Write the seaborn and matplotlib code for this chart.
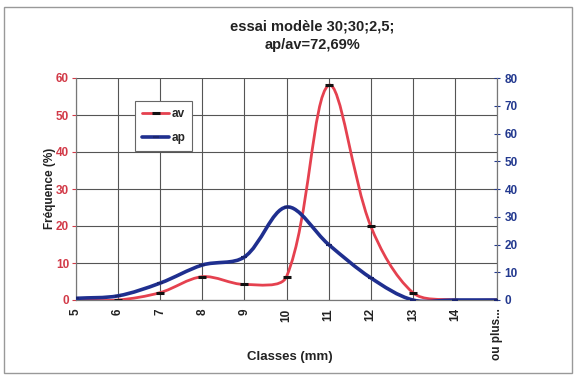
import numpy as np
import matplotlib
matplotlib.use("Agg")
import matplotlib.pyplot as plt
import seaborn as sns
from matplotlib.path import Path
from matplotlib.patches import PathPatch, Rectangle
from matplotlib.lines import Line2D

# size classes (mm) and frequencies
classes = ["5", "6", "7", "8", "9", "10", "11", "12", "13", "14", "ou plus..."]
av = [0, 0, 2, 6.3, 4.2, 6.3, 58, 20, 2, 0, 0]              # left axis (%)
ap = [0.6, 1.5, 6.1, 12.6, 15.5, 33.5, 20, 8, 0, 0, 0]      # right axis

RED = "#e5414f"
BLUE = "#1f2f8f"
RED_TXT = "#d23a48"
BLUE_TXT = "#23398f"


def smooth_path(xs, ys, sx, sy):
    # Excel style smoothed line: cubic Bezier segments, tangents weighted by chord length in pixels
    pts = np.column_stack([xs, ys]).astype(float)
    sc = np.array([sx, sy])
    n = len(pts)
    verts = [pts[0]]
    codes = [Path.MOVETO]

    def ctrl(i, forward):
        p0 = pts[max(i - 1, 0)]
        p1 = pts[i]
        p2 = pts[min(i + 1, n - 1)]
        d1 = np.linalg.norm((p1 - p0) * sc)
        d2 = np.linalg.norm((p2 - p1) * sc)
        if d1 + d2 == 0:
            return p1
        if forward:
            return p1 + (p2 - p0) * d2 / (d1 + d2) / 3
        return p1 - (p2 - p0) * d1 / (d1 + d2) / 3

    for i in range(n - 1):
        verts += [ctrl(i, True), ctrl(i + 1, False), pts[i + 1]]
        codes += [Path.CURVE4] * 3
    return Path(verts, codes)


sns.set_style("white")
plt.rcParams["font.family"] = ["Liberation Sans", "DejaVu Sans"]
plt.rcParams["font.weight"] = "bold"

fig = plt.figure(figsize=(5.78, 3.78), dpi=100)
ax = fig.add_axes([76 / 578, 78 / 378, 421 / 578, 222 / 378])
ax2 = ax.twinx()

x = np.arange(len(classes))
ax.set_xlim(0, len(classes) - 1)
ax.set_ylim(0, 60)
ax2.set_ylim(0, 80)

# pixels per data unit, used for the smoothing weights
px_x = 421 / (len(classes) - 1)
ax.add_patch(PathPatch(smooth_path(x, av, px_x, 222 / 60), fill=False,
                       edgecolor=RED, lw=2, zorder=3))
ax2.add_patch(PathPatch(smooth_path(x, ap, px_x, 222 / 80), fill=False,
                        edgecolor=BLUE, lw=2.6, zorder=3))

sns.lineplot(x=x, y=av, ax=ax, linewidth=0, marker="_", markersize=6,
             markeredgewidth=2.2, markeredgecolor="#111111", color="#111111",
             legend=False, zorder=4)
sns.lineplot(x=x, y=ap, ax=ax2, linewidth=0, marker="_", markersize=5,
             markeredgewidth=1.5, markeredgecolor="#1a2570", color="#1a2570",
             legend=False, zorder=4)

# grid
ax.set_xticks(x)
ax.set_xticklabels(classes, rotation=90, fontsize=8.5, fontweight="bold")
ax.set_yticks(range(0, 61, 10))
ax.grid(True, color="#555555", lw=0.8)
ax.set_axisbelow(True)
ax.tick_params(axis="y", colors=RED_TXT, labelsize=8.5, length=3, pad=2)
ax.tick_params(axis="x", labelsize=8.5, length=3, pad=3, colors="#222222")
for lab in ax.get_yticklabels():
    lab.set_fontweight("bold")

ax2.set_yticks(range(0, 81, 10))
ax2.tick_params(axis="y", colors=BLUE_TXT, labelsize=8.5, length=5,
                direction="inout", pad=3)
for lab in ax2.get_yticklabels():
    lab.set_fontweight("bold")
ax2.grid(False)

for a in (ax, ax2):
    for s in a.spines.values():
        s.set_color("#777777")
        s.set_linewidth(0.8)
ax.spines["top"].set_visible(False)
ax2.spines["top"].set_visible(False)

handles = [
    Line2D([], [], color=RED, lw=2, marker="_", markersize=6, markeredgewidth=2.2,
           markeredgecolor="#111111"),
    Line2D([], [], color=BLUE, lw=2.6, marker="_", markersize=5,
           markeredgewidth=1.5, markeredgecolor="#1a2570"),
]
leg = ax.legend(handles, ["av", "ap"], loc="upper left",
                bbox_to_anchor=(0.14, 0.895), fontsize=8.5, frameon=True,
                fancybox=False, edgecolor="#666666", framealpha=1,
                handlelength=2.3, handletextpad=0.2, labelspacing=1.0,
                borderpad=0.6, borderaxespad=0)
leg.get_frame().set_linewidth(0.8)

fig.text(312 / 578, 1 - 36 / 378, "essai modèle 30;30;2,5;\nap/av=72,69%",
         ha="center", va="center", fontsize=10.5, fontweight="bold",
         linespacing=1.4, color="#222222")
fig.text(50 / 578, 1 - 188 / 378, "Fréquence (%)", rotation=90, ha="center",
         va="center", fontsize=8.5, fontweight="bold", color="#222222")
fig.text(290 / 578, 1 - 357 / 378, "Classes (mm)", ha="center", va="center",
         fontsize=9.5, fontweight="bold", color="#222222")

# outer chart frame
fig.patches.append(Rectangle((4 / 578, 5 / 378), 568 / 578, 366 / 378,
                             transform=fig.transFigure, fill=False,
                             edgecolor="#999999", lw=1))

fig.savefig("out.png", dpi=100)
